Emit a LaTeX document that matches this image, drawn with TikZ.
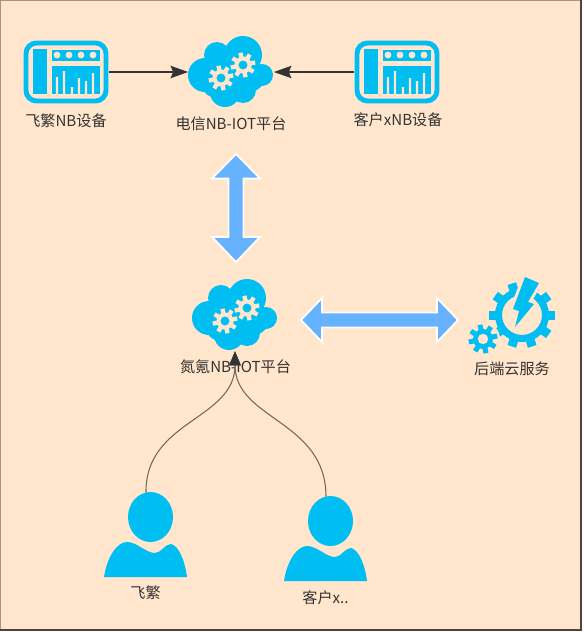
\documentclass[tikz,border=0pt]{standalone}
\usepackage{fontspec}
\usepackage{xcolor}
\setmainfont{Noto Sans CJK SC}
\usetikzlibrary{arrows.meta}
\definecolor{paper}{HTML}{FFE6CC}
\definecolor{iconblue}{HTML}{00BEF2}
\definecolor{arrowblue}{HTML}{66B2FF}
\definecolor{edgegray}{HTML}{333333}
\tikzset{
  lbl/.style={font=\fontsize{8.6pt}{10pt}\selectfont,text=edgegray,inner sep=0pt},
  slot/.style args={#1 by #2}{inner sep=0pt,minimum width=#1 cm,minimum height=#2 cm},
  link/.style={edgegray,line width=1.1pt,-{Stealth[length=10pt,width=7pt,inset=1.5pt]}},
  curve/.style={draw=black!55!paper,line width=0.6pt,-{Triangle[length=8pt,width=6.5pt,color=edgegray]}},
  bigarrow/.style={fill=arrowblue,draw=white,line width=1pt,line join=miter}
}
% 齿轮
\newcommand{\gearicon}[5]{%
  \foreach \a in {0,45,...,315}{
    \fill[#4,shift={(#1,#2)},rotate=\a+12] (-#3*0.25,#3*0.8) rectangle (#3*0.25,#3*1.45);
  }
  \fill[#4] (#1,#2) circle[radius=#3];
  \fill[#5] (#1,#2) circle[radius=#3*0.52];
}
\tikzset{
  cloudicon/.pic={
    \fill[iconblue] (12,-17) circle[radius=19] (-26,3) circle[radius=17] (-6,20) circle[radius=15]
      (12,18) circle[radius=13] (31,3) circle[radius=11] (-14,-17) circle[radius=13]
      (0,0) circle[radius=24] (18,4) circle[radius=16] (-14,10) circle[radius=16];
    \gearicon{-10}{6}{8.6}{paper}{iconblue}
    \gearicon{12}{-7}{8.6}{paper}{iconblue}
  },
  deviceicon/.pic={
    \draw[iconblue,line width=2.8pt,rounded corners=6pt,fill=paper] (-40,-29) rectangle (40,29);
    \fill[iconblue] (-33,-23) rectangle (-19,22);
    \fill[iconblue] (-14,-22) rectangle (34,-11);
    \fill[iconblue] (-14,-6) rectangle (34,22);
    \foreach \x in {-9,3,15,27}{\fill[paper] (\x,-17) circle[radius=3.4];}
    \fill[paper] (-10.2,5) rectangle (-7.8,22) (-3.2,-1) rectangle (-0.8,22) (4.8,15) rectangle (7.2,22)
      (11.8,6) rectangle (14.2,22) (18.8,9) rectangle (21.2,22) (25.8,1) rectangle (28.2,22);
  },
  personicon/.pic={
    \fill[iconblue] (4.5,-18) ellipse[x radius=22.5,y radius=25];
    \fill[iconblue] (-42,42) .. controls (-39,22) and (-29,7) .. (-19,7)
      .. controls (-9,7) and (0,18) .. (9,18) .. controls (15,18) and (19,9) .. (25,9)
      .. controls (33,11) and (39,26) .. (41,42) -- cycle;
  },
  engineicon/.pic={
    \foreach \a in {0,36,...,324}{
      \fill[iconblue,rotate=\a+18] (-4.5,-33) rectangle (4.5,-24);
    }
    \draw[iconblue,line width=4pt] (0,0) circle[radius=23.5];
    \draw[paper,line width=3.4pt,line join=round] (3,-38) -- (17,-32) -- (6,-13) -- (12,-11) -- (-7,12)
      -- (-3,-4) -- (-9,-6) -- cycle;
    \fill[iconblue] (3,-38) -- (17,-32) -- (6,-13) -- (12,-11) -- (-7,12)
      -- (-3,-4) -- (-9,-6) -- cycle;
    \fill[paper] (-39,24) circle[radius=17];
    \gearicon{-39}{24}{10}{iconblue}{paper}
  }
}
\begin{document}
\begin{tikzpicture}[x=0.02cm,y=-0.02cm]
% 画布
\useasboundingbox (0,0) rectangle (583,632);
\fill[white] (0,0) rectangle (583,632);
\fill[paper] (0.5,0.5) rectangle (581,630);
\draw[black!35!paper,line width=0.9pt] (0.5,630) -- (0.5,0.5) -- (581,0.5);
\draw[black!70!paper,line width=0.9pt] (581,0.5) -- (581,630) -- (0.5,630);
% 节点定义
\node[slot=1.7 by 1.26] (devA) at (66,72) {};
\node[slot=1.7 by 1.42] (telecom) at (231,72) {};
\node[slot=1.7 by 1.26] (devB) at (397,72) {};
\node[slot=1.7 by 1.44] (platform) at (235,315) {};
\node[slot=1.7 by 1.6] (cloudsvc) at (522,315) {};
\node[slot=1.66 by 1.68] (userA) at (146,535) {};
\node[slot=1.66 by 1.68] (userB) at (326,539) {};
\pic at (devA) {deviceicon};
\pic at (telecom) {cloudicon};
\pic at (devB) {deviceicon};
\pic at (platform) {cloudicon};
\pic at (cloudsvc) {engineicon};
\pic at (userA) {personicon};
\pic at (userB) {personicon};
% 文字
\node[lbl] (devAtxt) at (66,120.5) {飞繁NB设备};
\node[lbl] (telecomtxt) at (231,124) {电信NB-IOT平台};
\node[lbl] (devBtxt) at (398,120) {客户xNB设备};
\node[lbl] (platformtxt) at (235.5,367) {氮氪NB-IOT平台};
\node[lbl] (cloudtxt) at (512,369) {后端云服务};
\node[lbl] (userAtxt) at (145.5,593) {飞繁};
\node[lbl] (userBtxt) at (325.5,598) {客户x..};
% 连线
\draw[link] (devA) -- (telecom);
\draw[link] (devB) -- (telecom);
\draw[curve] (userA.north) .. controls (145,420) and (235,420) .. (platform.south);
\draw[curve] (userB.north) .. controls (326,420) and (235,420) .. (platform.south);
% 粗箭头
\draw[bigarrow] (236,154) -- (260,178.5) -- (243.5,178.5) -- (243.5,237) -- (260,237) -- (236,262)
  -- (212,237) -- (228.5,237) -- (228.5,178.5) -- (212,178.5) -- cycle;
\draw[bigarrow] (301,320) -- (322,298) -- (322,312.5) -- (437,312.5) -- (437,298) -- (458,320)
  -- (437,342) -- (437,327.5) -- (322,327.5) -- (322,342) -- cycle;
\end{tikzpicture}
\end{document}
